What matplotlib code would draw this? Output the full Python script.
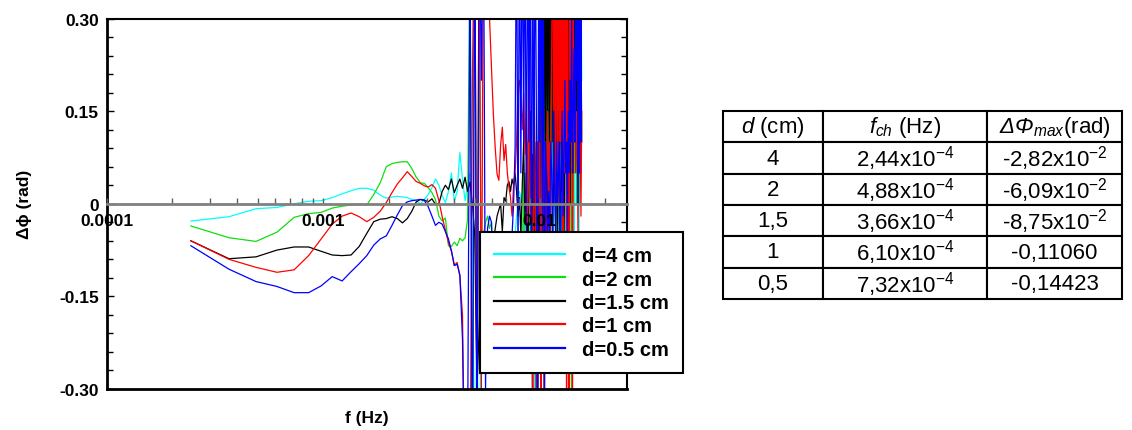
import numpy as np
import matplotlib
matplotlib.use('Agg')
import matplotlib.pyplot as plt
from matplotlib.ticker import MultipleLocator, LogLocator, NullFormatter

plt.rcParams['font.family'] = ['Liberation Sans', 'DejaVu Sans']
plt.rcParams['mathtext.fontset'] = 'custom'
plt.rcParams['mathtext.rm'] = 'Liberation Sans:italic'
plt.rcParams['mathtext.it'] = 'Liberation Sans:italic'

# FFT bins: f = k/8192 Hz, k = 2..128
df = 1.0 / 8192
k = np.arange(2, 129)
freq = k * df

# phase difference (rad) per bin
dphi_4cm = [-0.028, -0.021, -0.008, -0.006, 0.000, 0.004, 0.005, 0.010, 0.016,
            0.021, 0.025, 0.025, 0.022, 0.014, 0.009, 0.011, 0.012, 0.011, 0.010,
            0.007, 0.005, 0.000, 0.007, 0.015, 0.026, 0.040, 0.030, 0.013, 0.002,
            0.020, 0.050, 0.004, 0.020, 0.083, 0.040, 0.005, 0.030, 0.050, -0.050,
            -0.45, -0.20, -0.50, -0.10, -0.15, -0.12, -0.10, -0.12, -0.15, -0.10,
            -0.12, -0.18, -0.15, -0.10, -0.12, -0.20, -0.15, -0.10, -0.15, -0.12,
            -0.10, -0.08, -0.05, -0.02, 0.00, 0.02, 0.01, -0.06, -0.10, 0.05,
            -0.05, 0.10, -0.20, 0.05, -0.10, -0.40, 0.00, -0.50, 0.10, -0.30,
            0.20, -0.05, 0.50, 0.00, 0.50, -0.45, 0.50, 0.05, 0.50, 0.10,
            0.50, 0.00, 0.45, -0.10, 0.50, 0.10, 0.30, -0.15, 0.10, 0.05,
            -0.10, 0.15, 0.05, -0.20, 0.10, 0.30, -0.10, 0.15, 0.20, 0.45,
            0.10, 0.50, 0.05, 0.40, 0.20, 0.50, 0.10, -0.10, 0.30, 0.15,
            0.50, 0.20, 0.45, -0.05, 0.50, 0.10, 0.40, 0.20]
dphi_2cm = [-0.036, -0.055, -0.061, -0.046, -0.022, -0.016, -0.014, -0.007, -0.004,
            -0.002, -0.001, -0.002, 0.015, 0.034, 0.060, 0.065, 0.067, 0.068, 0.068,
            0.057, 0.043, 0.034, 0.033, 0.026, 0.018, 0.007, -0.020, -0.028, -0.023,
            -0.068, -0.069, -0.062, -0.068, -0.056, -0.060, -0.055, -0.025, 0.45, -0.50,
            0.50, -0.40, 0.30, -0.10, -0.05, -0.03, -0.02, -0.04, -0.03, -0.12,
            -0.15, -0.20, -0.12, -0.18, -0.15, -0.10, -0.20, -0.15, -0.12, -0.10,
            -0.15, -0.20, -0.10, -0.05, -0.15, -0.12, -0.20, -0.10, 0.05, -0.15,
            -0.10, 0.10, -0.20, -0.05, 0.15, -0.10, 0.05, -0.20, 0.10, -0.05,
            0.20, -0.10, 0.15, 0.05, -0.15, 0.25, 0.10, -0.05, 0.30, 0.15,
            -0.10, 0.20, 0.05, 0.30, -0.05, 0.15, 0.40, 0.10, 0.25, 0.05,
            0.35, 0.10, 0.50, 0.15, 0.30, -0.10, 0.45, 0.05, 0.50, 0.00,
            0.50, 0.05, 0.50, 0.10, -0.50, 0.50, 0.00, 0.50, 0.05, 0.50,
            0.00, 0.50, 0.10, 0.50, 0.00, 0.50, 0.05, 0.50]
dphi_15cm = [-0.060, -0.089, -0.086, -0.075, -0.070, -0.070, -0.077, -0.083, -0.084,
             -0.083, -0.069, -0.048, -0.029, -0.025, -0.024, -0.021, -0.024, -0.031, -0.024,
             -0.012, 0.003, 0.007, 0.006, 0.003, 0.008, -0.001, 0.000, 0.020, 0.030,
             0.023, 0.040, 0.018, 0.030, 0.040, 0.025, 0.043, 0.020, 0.035, 0.000,
             -0.05, -0.30, -0.20, -0.10, -0.15, -0.18, -0.12, -0.10, -0.08, -0.06,
             -0.04, -0.02, -0.01, 0.000, -0.045, 0.010, 0.004, 0.030, 0.036, 0.020,
             0.040, 0.030, 0.050, 0.020, -0.020, 0.010, -0.050, 0.030, 0.100, -0.030,
             0.05, -0.10, 0.02, 0.15, -0.05, 0.08, -0.15, 0.03, 0.10, -0.45,
             0.05, -0.08, 0.20, 0.50, -0.05, 0.50, 0.00, 0.50, -0.02, 0.50,
             0.05, 0.50, 0.10, 0.50, 0.00, 0.40, 0.20, 0.05, -0.10, 0.15,
             0.05, -0.15, 0.10, 0.02, 0.20, -0.05, 0.10, 0.25, 0.05, 0.35,
             0.10, 0.50, 0.00, 0.50, 0.15, 0.50, 0.05, 0.45, 0.10, 0.50,
             0.15, 0.30, 0.10, 0.25, 0.40, 0.05, 0.30, 0.10]
dphi_1cm = [-0.060, -0.090, -0.103, -0.111, -0.107, -0.084, -0.057, -0.033, -0.020,
            -0.015, -0.021, -0.029, -0.022, -0.012, 0.002, 0.018, 0.032, 0.042, 0.052,
            0.044, 0.036, 0.033, 0.029, 0.027, 0.031, 0.025, 0.005, -0.021, -0.043,
            -0.063, -0.077, -0.100, -0.095, -0.117, -0.180, -0.50, -0.30, -0.50, 0.20,
            0.50, -0.40, 0.50, -0.30, 0.50, 0.50, 0.45, 0.30, 0.22, 0.145,
            0.090, 0.048, 0.038, 0.095, 0.124, 0.070, 0.096, 0.050, 0.027, 0.010,
            -0.020, 0.030, 0.050, 0.100, 0.190, 0.200, 0.170, 0.120, 0.180, 0.080,
            0.150, -0.030, 0.250, -0.020, 0.100, -0.50, 0.200, 0.050, -0.45, 0.100,
            -0.02, 0.15, -0.40, 0.05, 0.20, -0.50, 0.10, -0.05, 0.15, 0.02,
            0.10, -0.05, 0.25, 0.50, 0.10, 0.50, 0.00, 0.50, 0.05, 0.50,
            0.00, 0.50, 0.10, 0.50, -0.05, 0.50, 0.05, 0.50, -0.45, 0.50,
            0.00, -0.50, 0.50, 0.10, 0.50, -0.40, 0.30, 0.10, 0.20, 0.05,
            0.10, 0.15, -0.05, 0.20, 0.05, 0.10, -0.02, 0.15]
dphi_05cm = [-0.068, -0.106, -0.126, -0.134, -0.144, -0.144, -0.133, -0.118, -0.125,
             -0.110, -0.097, -0.084, -0.067, -0.057, -0.052, -0.035, -0.018, -0.003, 0.003,
             0.005, 0.006, 0.007, 0.005, -0.005, -0.020, -0.035, -0.030, -0.033, -0.045,
             -0.057, -0.076, -0.100, -0.098, -0.115, -0.220, -0.50, -0.40, 0.40, -0.50,
             0.50, -0.45, 0.50, 0.20, 0.50, -0.30, -0.04, -0.02, -0.03, -0.12,
             -0.15, -0.20, -0.18, -0.12, -0.15, -0.20, -0.12, -0.15, -0.10, -0.08,
             -0.05, 0.00, 0.09, 0.50, -0.10, 0.50, 0.05, 0.50, 0.10, 0.50,
             -0.05, 0.50, 0.10, 0.50, -0.20, 0.50, 0.00, 0.50, 0.15, -0.45,
             0.50, 0.10, 0.50, -0.05, 0.45, -0.30, 0.10, 0.05, -0.10, 0.02,
             -0.05, 0.10, 0.05, -0.08, 0.15, 0.02, -0.05, 0.10, 0.00, 0.05,
             0.10, -0.10, 0.05, 0.15, -0.02, 0.08, 0.20, 0.05, 0.10, -0.05,
             0.15, 0.05, 0.20, 0.10, 0.30, 0.05, 0.15, 0.25, 0.10, 0.40,
             0.20, 0.50, 0.00, 0.50, 0.05, 0.50, 0.10, 0.50]

labels = ['d=4 cm', 'd=2 cm', 'd=1.5 cm', 'd=1 cm', 'd=0.5 cm']
colors = ['#00ffff', '#11dd11', '#000000', '#ff0000', '#0000ff']
all_series = [dphi_4cm, dphi_2cm, dphi_15cm, dphi_1cm, dphi_05cm]

x_ticks = [1e-4, 1e-3, 1e-2]
x_ticklabels = ['0.0001', '0.001', '0.01']
y_ticks = [-0.30, -0.15, 0.0, 0.15, 0.30]
y_ticklabels = ['-0.30', '-0.15', '0', '0.15', '0.30']

# table on the right
col_labels = ['$d$ (cm)', '$f_{ch}$ (Hz)', r'$\Delta\Phi_{max}$(rad)']
d_cm = ['4', '2', '1,5', '1', '0,5']
f_ch = [r'2,44x10$^{\mathregular{-4}}$', r'4,88x10$^{\mathregular{-4}}$',
        r'3,66x10$^{\mathregular{-4}}$', r'6,10x10$^{\mathregular{-4}}$',
        r'7,32x10$^{\mathregular{-4}}$']
dphi_max = [r'-2,82x10$^{\mathregular{-2}}$', r'-6,09x10$^{\mathregular{-2}}$',
            r'-8,75x10$^{\mathregular{-2}}$', '-0,11060', '-0,14423']

W, H = 1132, 431
fig = plt.figure(figsize=(W / 100, H / 100), dpi=100)
ax = fig.add_axes([107 / W, 41 / H, 520 / W, 370.5 / H])

for vals, lab, col in zip(all_series, labels, colors):
    assert len(vals) == len(freq)
    ax.plot(freq, vals, color=col, lw=0.9, label=lab)

ax.set_xscale('log')
ax.set_xlim(1e-4, 0.0253)
ax.set_ylim(-0.3, 0.3)

ax.tick_params(axis='x', which='both', bottom=False, top=False, labelbottom=False)
ax.set_yticks(y_ticks, y_ticklabels, fontweight='bold')
ax.yaxis.set_minor_locator(MultipleLocator(0.03))
ax.tick_params(axis='y', which='both', direction='in', left=True, right=True,
               labelsize=12.5, pad=6, width=1)
ax.tick_params(axis='y', which='major', length=5)
ax.tick_params(axis='y', which='minor', length=4)

ax.spines['left'].set_linewidth(2)
ax.spines['bottom'].set_linewidth(2)
ax.spines['top'].set_linewidth(1.5)
ax.spines['right'].set_linewidth(1.5)

# x axis drawn along the zero line
zax = ax.secondary_xaxis(0.5)
zax.set_alignment('bottom')
zax.set_zorder(2.5)
zax.set_xticks(x_ticks, x_ticklabels, fontweight='bold')
zax.xaxis.set_minor_locator(LogLocator(base=10, subs=np.arange(2, 10)))
zax.xaxis.set_minor_formatter(NullFormatter())
zax.tick_params(which='both', direction='in', length=4, width=1, color='#606060',
                labelsize=12.5, pad=7)
zax.spines['bottom'].set_color('#808080')
zax.spines['bottom'].set_linewidth(2)

ax.set_xlabel('f (Hz)', fontsize=12.5, fontweight='bold')
ax.xaxis.set_label_coords(0.5, -0.057)
ax.set_ylabel('Δϕ (rad)', fontsize=12.5, fontweight='bold')
ax.yaxis.set_label_coords(-0.145, 0.5)

leg = ax.legend(loc='upper left', bbox_to_anchor=(480 / W, 1 - 233 / H),
                bbox_transform=fig.transFigure, prop={'weight': 'bold', 'size': 14.5},
                frameon=True, fancybox=False, edgecolor='black', framealpha=1,
                borderpad=0.7, labelspacing=0.22, handlelength=3.5,
                handletextpad=0.85, borderaxespad=0)
leg.set_zorder(5)
leg.get_frame().set_linewidth(1.5)
for h in leg.get_lines():
    h.set_linewidth(1.6)

tax = fig.add_axes([723 / W, 1 - 300 / H, 399 / W, 188 / H])
tax.axis('off')
rows = list(zip(d_cm, f_ch, dphi_max))
tbl = tax.table(cellText=rows, colLabels=col_labels, cellLoc='center',
                bbox=[0, 0, 1, 1], colWidths=[100 / 399, 164 / 399, 135 / 399])
tbl.auto_set_font_size(False)
tbl.set_fontsize(16)
for cell in tbl.get_celld().values():
    cell.set_linewidth(1.5)
    cell.set_edgecolor('black')

fig.savefig('out.png', dpi=100)
